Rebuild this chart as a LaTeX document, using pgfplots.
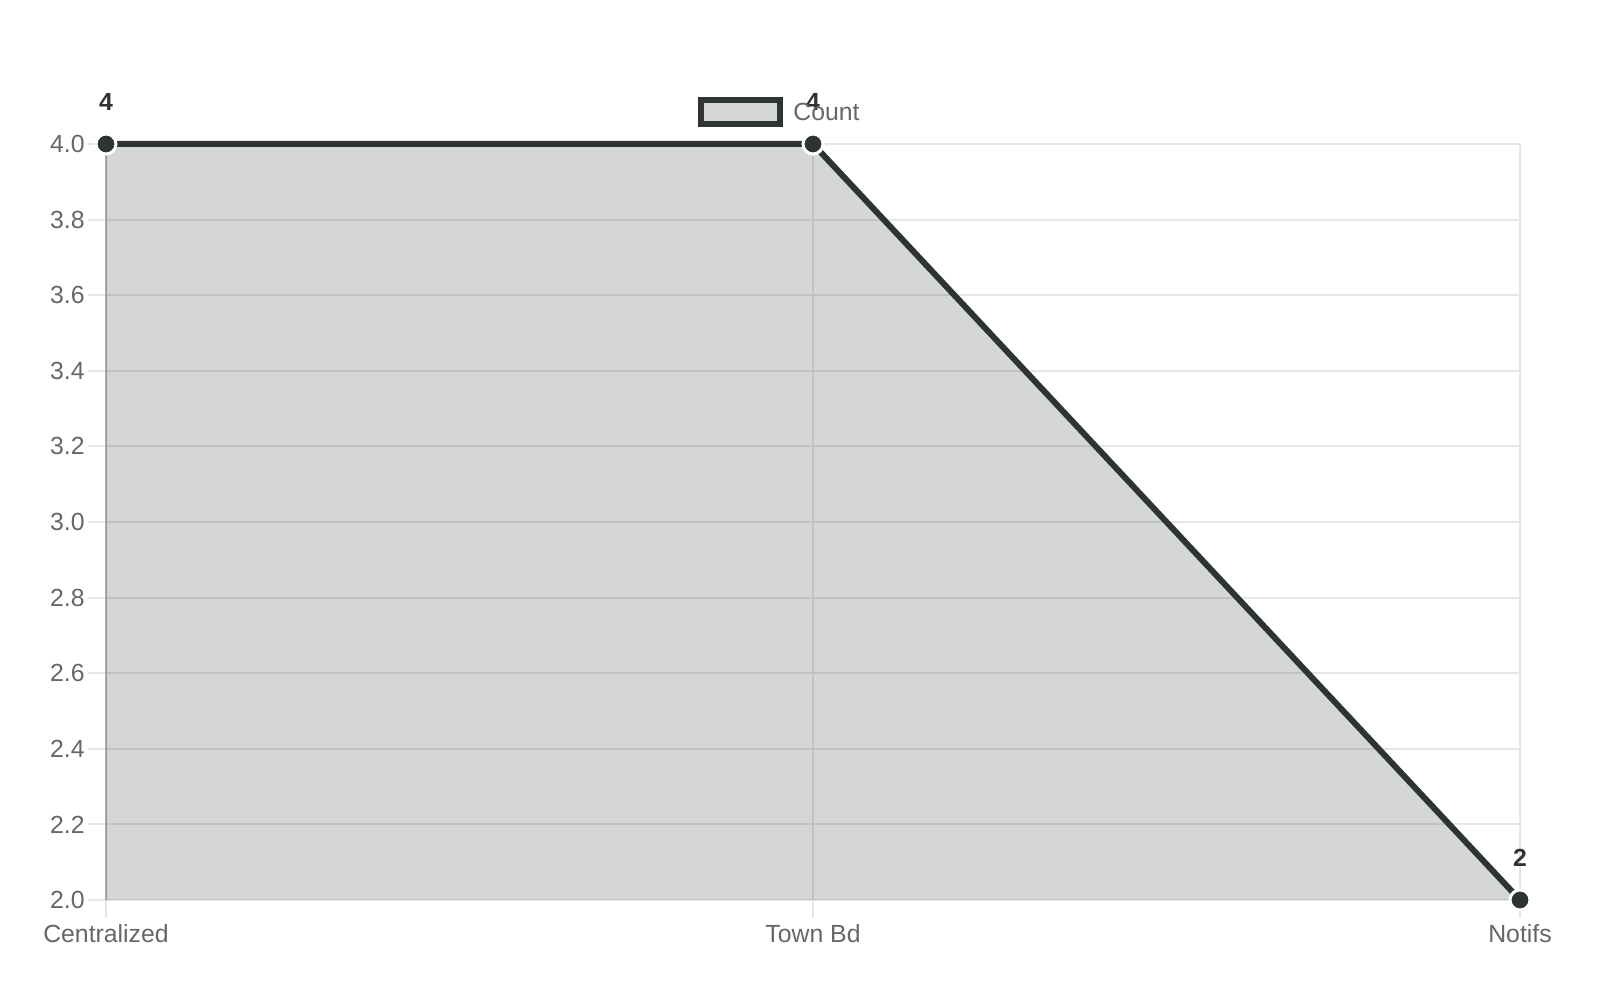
\documentclass[border=0pt]{standalone}
\usepackage{pgfplots}
\pgfplotsset{compat=1.18}
\usepackage{fontspec}
\setmainfont{Liberation Sans}
\definecolor{dark}{HTML}{2D3433}
\definecolor{gridc}{HTML}{E6E6E6}
\definecolor{tickc}{HTML}{666666}
\definecolor{yaxc}{HTML}{B0B0B0}
\begin{document}
\begin{tikzpicture}
\path[use as bounding box] (0,0) rectangle (800pt,500pt);
\begin{axis}[
  at={(53pt,50pt)}, anchor=south west,
  scale only axis, width=707pt, height=378pt,
  xmin=0, xmax=2, ymin=2, ymax=4,
  xtick={0,1,2}, xticklabels={Centralized,Town Bd,Notifs},
  ytick={2,2.2,...,4.01},
  yticklabel={\pgfmathprintnumber[fixed,fixed zerofill,precision=1]{\tick}},
  /pgf/number format/assume math mode=true,
  font=\fontsize{12.4}{14}\selectfont,
  tick label style={text=tickc, font=\fontsize{12.4}{14}\selectfont},
  xmajorgrids, ymajorgrids,
  grid style={gridc, line width=1pt},
  major tick style={gridc, line width=1pt},
  tick align=outside, major tick length=9pt,
  axis x line*=bottom, axis y line*=left,
  x axis line style={gridc, line width=1pt, -},
  y axis line style={yaxc, line width=1pt, -},
  xticklabel style={anchor=base, inner sep=0pt, yshift=-12pt},
  yticklabel style={anchor=east, inner sep=0pt, xshift=-1.5pt},
  clip=false,
]
\addplot[draw=none, fill=dark, fill opacity=0.2] coordinates {(0,4) (1,4) (2,2)} \closedcycle;
\addplot[dark, line width=3pt, mark=*, mark size=5pt,
  mark options={fill=dark, draw=white, line width=1.5pt},
  nodes near coords, point meta=explicit symbolic,
  every node near coord/.style={anchor=base, inner sep=0pt, yshift=16.5pt, text=dark, font=\fontsize{12.4}{14}\selectfont\bfseries}]
  coordinates {(0,4) [4] (1,4) [4] (2,2) [2]};
\end{axis}
\draw[dark, line width=3pt, fill=dark, fill opacity=0.2] (350.5pt,438pt) rectangle (390pt,450pt);
\node[anchor=base west, inner sep=0pt, text=tickc, font=\fontsize{12.4}{14}\selectfont] at (396.5pt,439.7pt) {Count};
\end{tikzpicture}
\end{document}
